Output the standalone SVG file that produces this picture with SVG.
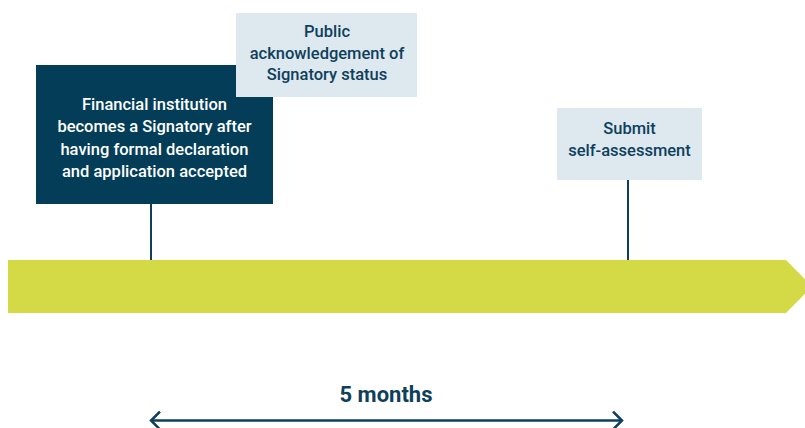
<svg xmlns="http://www.w3.org/2000/svg" width="805" height="428" viewBox="0 0 805 428">
<style>
.t{font-family:Roboto,"Liberation Sans",sans-serif;font-size:16.5px;font-weight:500;text-anchor:middle}
.dk{fill:#ffffff}
.lt{fill:#0e3f5b}
.conn{stroke:#0e3f5b;stroke-width:2;fill:none}
</style>
<defs>
<marker id="chev" viewBox="0 0 12 20" refX="10" refY="10" markerWidth="12" markerHeight="20" markerUnits="userSpaceOnUse" orient="auto-start-reverse">
<path d="M1,1 L10,10 L1,19" fill="none" stroke="#0e3f5b" stroke-width="2.5"/>
</marker>
</defs>
<rect width="805" height="428" fill="#ffffff"/>
<g id="timeline">
<polygon points="8,260 786,260 812,286.5 786,313 8,313" fill="#d4da45"/>
</g>
<g id="connectors">
<line class="conn" x1="151" y1="203" x2="151" y2="260"/>
<line class="conn" x1="628" y1="180" x2="628" y2="260"/>
<line x1="151" y1="420.5" x2="622" y2="420.5" stroke="#0e3f5b" stroke-width="2.5" marker-start="url(#chev)" marker-end="url(#chev)"/>
</g>
<g id="node-signatory">
<rect x="36" y="65" width="237" height="139" fill="#033d58"/>
<text class="t dk" x="154.5"><tspan x="154.5" y="110">Financial institution</tspan><tspan x="154.5" y="132">becomes a Signatory after</tspan><tspan x="154.5" y="154.5">having formal declaration</tspan><tspan x="154.5" y="177">and application accepted</tspan></text>
</g>
<g id="node-public">
<rect x="236" y="13" width="181" height="84" fill="#dde8ef"/>
<text class="t lt"><tspan x="327" y="37">Public</tspan><tspan x="327" y="58.5">acknowledgement of</tspan><tspan x="327" y="80">Signatory status</tspan></text>
</g>
<g id="node-submit">
<rect x="557" y="108" width="145" height="72" fill="#dde8ef"/>
<text class="t lt"><tspan x="629.5" y="133.5">Submit</tspan><tspan x="629.5" y="156">self-assessment</tspan></text>
</g>
<g id="label-duration">
<text x="386" y="402" font-family="Roboto,'Liberation Sans',sans-serif" font-size="22" font-weight="700" fill="#0e3f5b" text-anchor="middle">5 months</text>
</g>
</svg>
